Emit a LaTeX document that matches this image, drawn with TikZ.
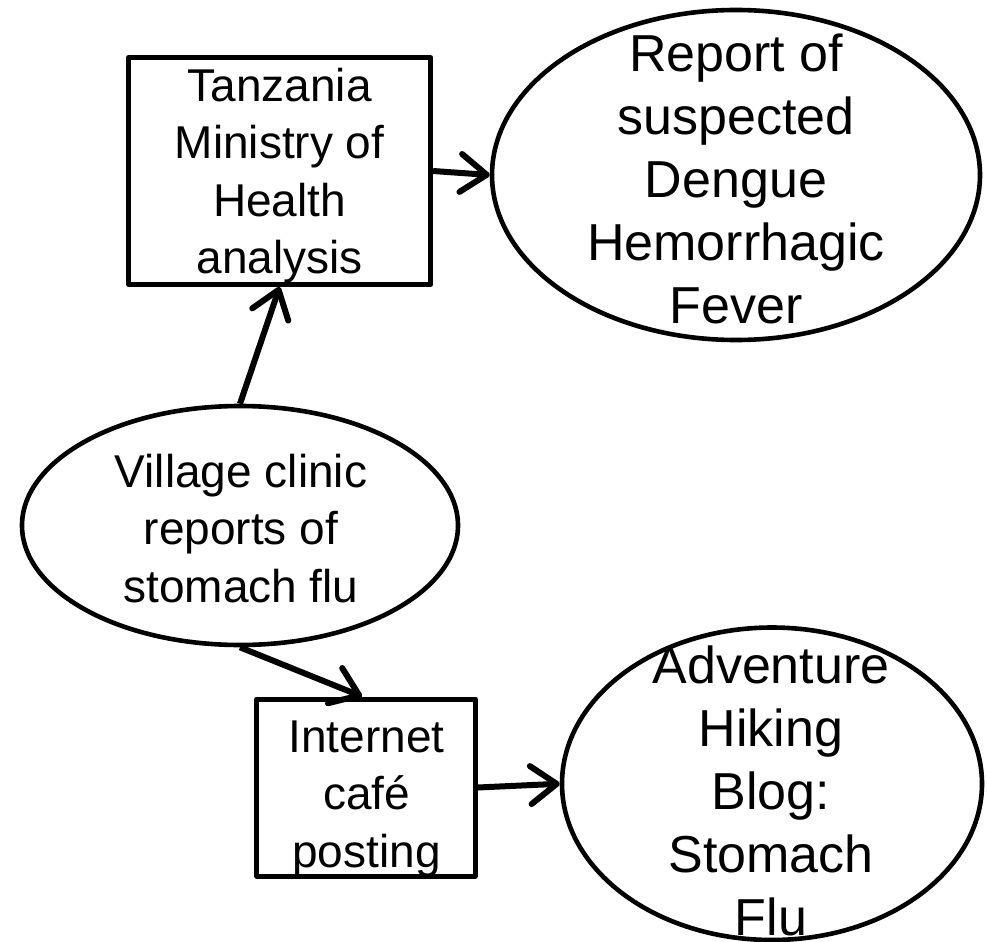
\documentclass[tikz,border=0pt]{standalone}
\usepackage{fontspec}
\setmainfont{Liberation Sans}
\usetikzlibrary{shapes.geometric,arrows.meta}
\begin{document}
\begin{tikzpicture}[x=1pt,y=-1pt,
  shapebox/.style={draw, line width=5pt, rectangle, inner sep=0pt, fill=white, line join=round},
  shapeell/.style={draw, line width=4.6pt, ellipse, inner sep=0pt, fill=white},
  conn/.style={line width=6pt, -{Straight Barb[length=26pt,width=38pt,line cap=round,line join=round]}},
  txt/.style={align=center, inner sep=0pt, anchor=base, font=\fontsize{46pt}{57.3pt}\selectfont},
  txtbig/.style={align=center, inner sep=0pt, anchor=base, font=\fontsize{52pt}{63pt}\selectfont}]
\useasboundingbox (0,0) rectangle (988,942);
\node[shapebox, minimum width=302pt, minimum height=227pt] (mini) at (279.6,171) {};
\node[shapeell, minimum width=488pt, minimum height=330pt] (report) at (736,175) {};
\node[shapeell, minimum width=436pt, minimum height=239pt] (village) at (240,525.5) {};
\node[shapebox, minimum width=218.5pt, minimum height=177pt] (cafe) at (366,787.5) {};
\node[shapeell, minimum width=420pt, minimum height=312.5pt] (blog) at (772,783.75) {};
\draw[conn] (village.north) -- (mini.south);
\draw[conn] (mini.east) -- (report.west);
\draw[conn] (village.south) -- ([xshift=-4pt]cafe.north);
\draw[conn] (cafe.east) -- (blog.west);
\node[txt] (tmini) at (279.6,273.5) {Tanzania\\Ministry of\\Health\\analysis};
\node[txtbig] (treport) at (736,323) {Report of\\suspected\\Dengue\\Hemorrhagic\\Fever};
\node[txt] (tvillage) at (241,602) {Village clinic\\reports of\\stomach flu};
\node[txt] (tcafe) at (366.5,867) {Internet\\café\\posting};
\node[txtbig] (tblog) at (771,935) {Adventure\\Hiking\\Blog:\\Stomach\\Flu};
\end{tikzpicture}
\end{document}
